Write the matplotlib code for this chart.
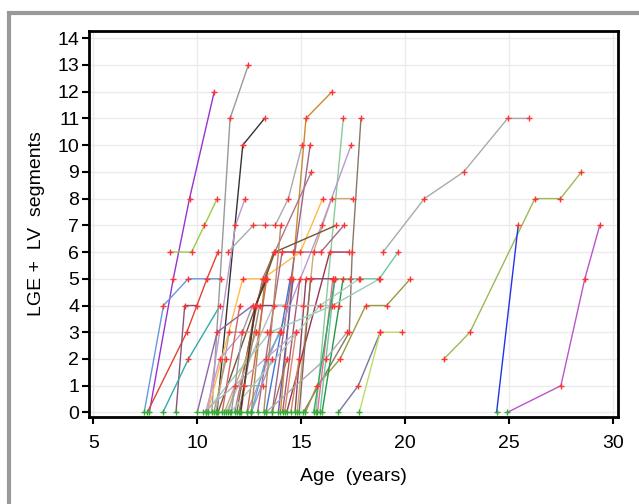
import matplotlib
matplotlib.use("Agg")
import matplotlib.pyplot as plt
from matplotlib.patches import Rectangle

# one entry per patient: ages, LGE segment counts, line colour
ages = [
    [7.7, 8.85, 9.63, 10.82],
    [7.45, 8.38, 9.57, 11.12],
    [7.6, 9.5, 10.47, 11.0],
    [8.71, 9.73, 10.35, 10.96],
    [8.98, 9.4, 10.0],
    [8.35, 9.58, 11.1],
    [10.7, 11.58, 12.46],
    [10.95, 12.19, 13.24],
    [10.5, 11.84, 12.3],
    [11.48, 12.7, 13.26, 13.75, 14.38, 15.04],
    [14.0, 15.23, 16.48],
    [13.6, 15.43],
    [11.8, 13.14, 15.49],
    [14.8, 15.59, 16.46, 17.5],
    [10.5, 12.19, 13.14, 14.96, 16.03],
    [15.7, 17.02],
    [15.1, 17.31, 17.45, 17.87],
    [15.2, 15.75, 16.87, 18.1, 19.1, 20.25],
    [16.78, 17.74, 18.8],
    [17.79, 18.8, 19.82],
    [15.9, 16.62, 17.34, 17.82, 18.75, 19.66],
    [18.93, 20.92, 22.81, 24.92, 25.94],
    [21.86, 23.11, 26.23, 27.46, 28.47],
    [24.39, 25.43],
    [24.9, 27.48, 28.63, 29.35],
    [12.4, 15.98, 17.4],
    [11.9, 12.81, 13.67, 14.61],
    [11.0, 13.73, 16.68],
    [14.3, 16.37, 17.28],
    [12.9, 14.08, 15.94, 17.05],
    [15.78, 16.52],
    [16.0, 16.82, 17.01],
    [14.7, 15.23, 16.52],
    [12.6, 13.26],
    [12.4, 13.34],
    [13.3, 14.02, 14.47],
    [13.9, 14.61],
    [14.1, 14.94],
    [14.9, 15.45],
    [12.1, 12.81, 14.22],
    [11.4, 13.67, 15.1, 16.56],
    [10.9, 11.54, 12.85],
    [11.3, 12.85, 13.34, 14.02],
    [14.2, 14.75],
    [10.0, 10.96, 12.66],
    [10.4, 11.09, 12.17],
    [10.8, 11.39],
    [12.6, 13.59],
    [13.6, 14.32],
    [14.5, 14.9],
    [11.5, 11.84, 12.27, 13.14],
    [12.6, 13.3, 14.0],
    [10.4, 13.5, 16.5, 18.77],
    [13.3, 16.17, 17.2],
    [12.0, 13.0],
    [11.2, 12.05],
    [10.3, 14.75],
    [11.6, 15.9, 17.79],
    [15.6, 16.62],
    [12.07, 12.81, 13.34],
    [13.2, 14.02],
    [11.64, 12.17, 12.66],
]
segments = [
    [0, 5, 8, 12],
    [0, 4, 5, 5],
    [0, 3, 5, 6],
    [6, 6, 7, 8],
    [0, 4, 4],
    [0, 2, 4],
    [0, 11, 13],
    [0, 10, 11],
    [0, 7, 8],
    [6, 7, 7, 7, 8, 10],
    [0, 11, 12],
    [0, 10],
    [0, 5, 9],
    [0, 6, 8, 8],
    [0, 5, 5, 6, 8],
    [0, 11],
    [0, 3, 6, 11],
    [0, 1, 2, 4, 4, 5],
    [0, 1, 3],
    [0, 3, 3],
    [0, 5, 5, 5, 5, 6],
    [6, 8, 9, 11, 11],
    [2, 3, 8, 8, 9],
    [0, 7],
    [0, 1, 5, 7],
    [0, 7, 10],
    [0, 4, 6, 6],
    [0, 6, 7],
    [0, 6, 6],
    [0, 6, 6, 7],
    [0, 5],
    [0, 4, 5],
    [0, 5, 5],
    [0, 5],
    [0, 5],
    [0, 3, 5],
    [0, 5],
    [0, 5],
    [0, 5],
    [0, 4, 4],
    [0, 4, 4, 4],
    [0, 3, 3],
    [0, 3, 3, 3],
    [0, 3],
    [0, 3, 4],
    [0, 2, 3],
    [0, 2],
    [0, 2],
    [0, 2],
    [0, 2],
    [0, 1, 1, 1],
    [0, 2, 3],
    [0, 3, 4, 5],
    [0, 2, 3],
    [0, 4],
    [0, 4],
    [0, 3],
    [0, 4, 5],
    [0, 5],
    [0, 4, 5],
    [0, 7],
    [0, 3, 4],
]
colors = [
    '#9933cc', '#6699dd', '#dd4433', '#99cc44', '#885577', '#33aaaa',
    '#999999', '#333333', '#bb99cc', '#aaaaaa', '#cc8833', '#996688',
    '#aa7788', '#ccaa77', '#ffbb44', '#88cc99', '#887766', '#999944',
    '#777799', '#bbdd66', '#66cc99', '#aaaaaa', '#99bb55', '#2233ee',
    '#bb55cc', '#bb99cc', '#996633', '#775533', '#993355', '#aa6688',
    '#ee6699', '#229944', '#884466', '#aa8844', '#cc6644', '#4477cc',
    '#6655aa', '#aa5577', '#886655', '#884466', '#bbbbbb', '#aaaa99',
    '#ccaa66', '#dd8866', '#8866aa', '#cc99cc', '#bb9966', '#9999cc',
    '#aa7755', '#cc8855', '#aaaaaa', '#66aacc', '#99ccbb', '#aaaaaa',
    '#998877', '#cc6666', '#bbaacc', '#aaccbb', '#33aa66', '#553322',
    '#bb8866', '#9999aa',
]

fig = plt.figure(figsize=(6.39, 5.04), dpi=100)
ax = fig.add_axes([0.1393, 0.1732, 0.828, 0.7653])

for xs, ys, c in zip(ages, segments, colors):
    ax.plot(xs, ys, color=c, lw=1.0, zorder=2)
for xs, ys in zip(ages, segments):
    for x, y in zip(xs, ys):
        mc = '#33aa33' if y == 0 else '#ff3333'
        ax.plot(x, y, marker='+', ms=5, mew=1.0, color=mc, ls='none', zorder=3)

ax.set_xlim(4.8, 30.23)
ax.set_ylim(-0.16, 14.27)
ax.set_xticks(range(5, 31, 5))
ax.set_yticks(range(0, 15))
ax.grid(True, color='#ebebeb', lw=1.0, zorder=0)
ax.set_axisbelow(True)

for s in ax.spines.values():
    s.set_linewidth(2.0)
ax.tick_params(direction='out', length=5, width=1.5, labelsize=14, pad=8)
ax.tick_params(axis='y', pad=2)
for lab in ax.get_xticklabels() + ax.get_yticklabels():
    lab.set_family('Liberation Sans')

ax.set_xlabel('Age  (years)', fontsize=14, family='Liberation Sans', labelpad=12)
ax.set_ylabel('LGE +  LV  segments', fontsize=14, family='Liberation Sans', labelpad=9)

# grey frame around the whole panel
fig.patches.append(Rectangle((9 / 639, -0.05), 1.1, 1 - 13 / 504 + 0.05,
                             transform=fig.transFigure, fill=False,
                             edgecolor='#999999', lw=3, clip_on=False))

fig.savefig('out.png', dpi=100)
